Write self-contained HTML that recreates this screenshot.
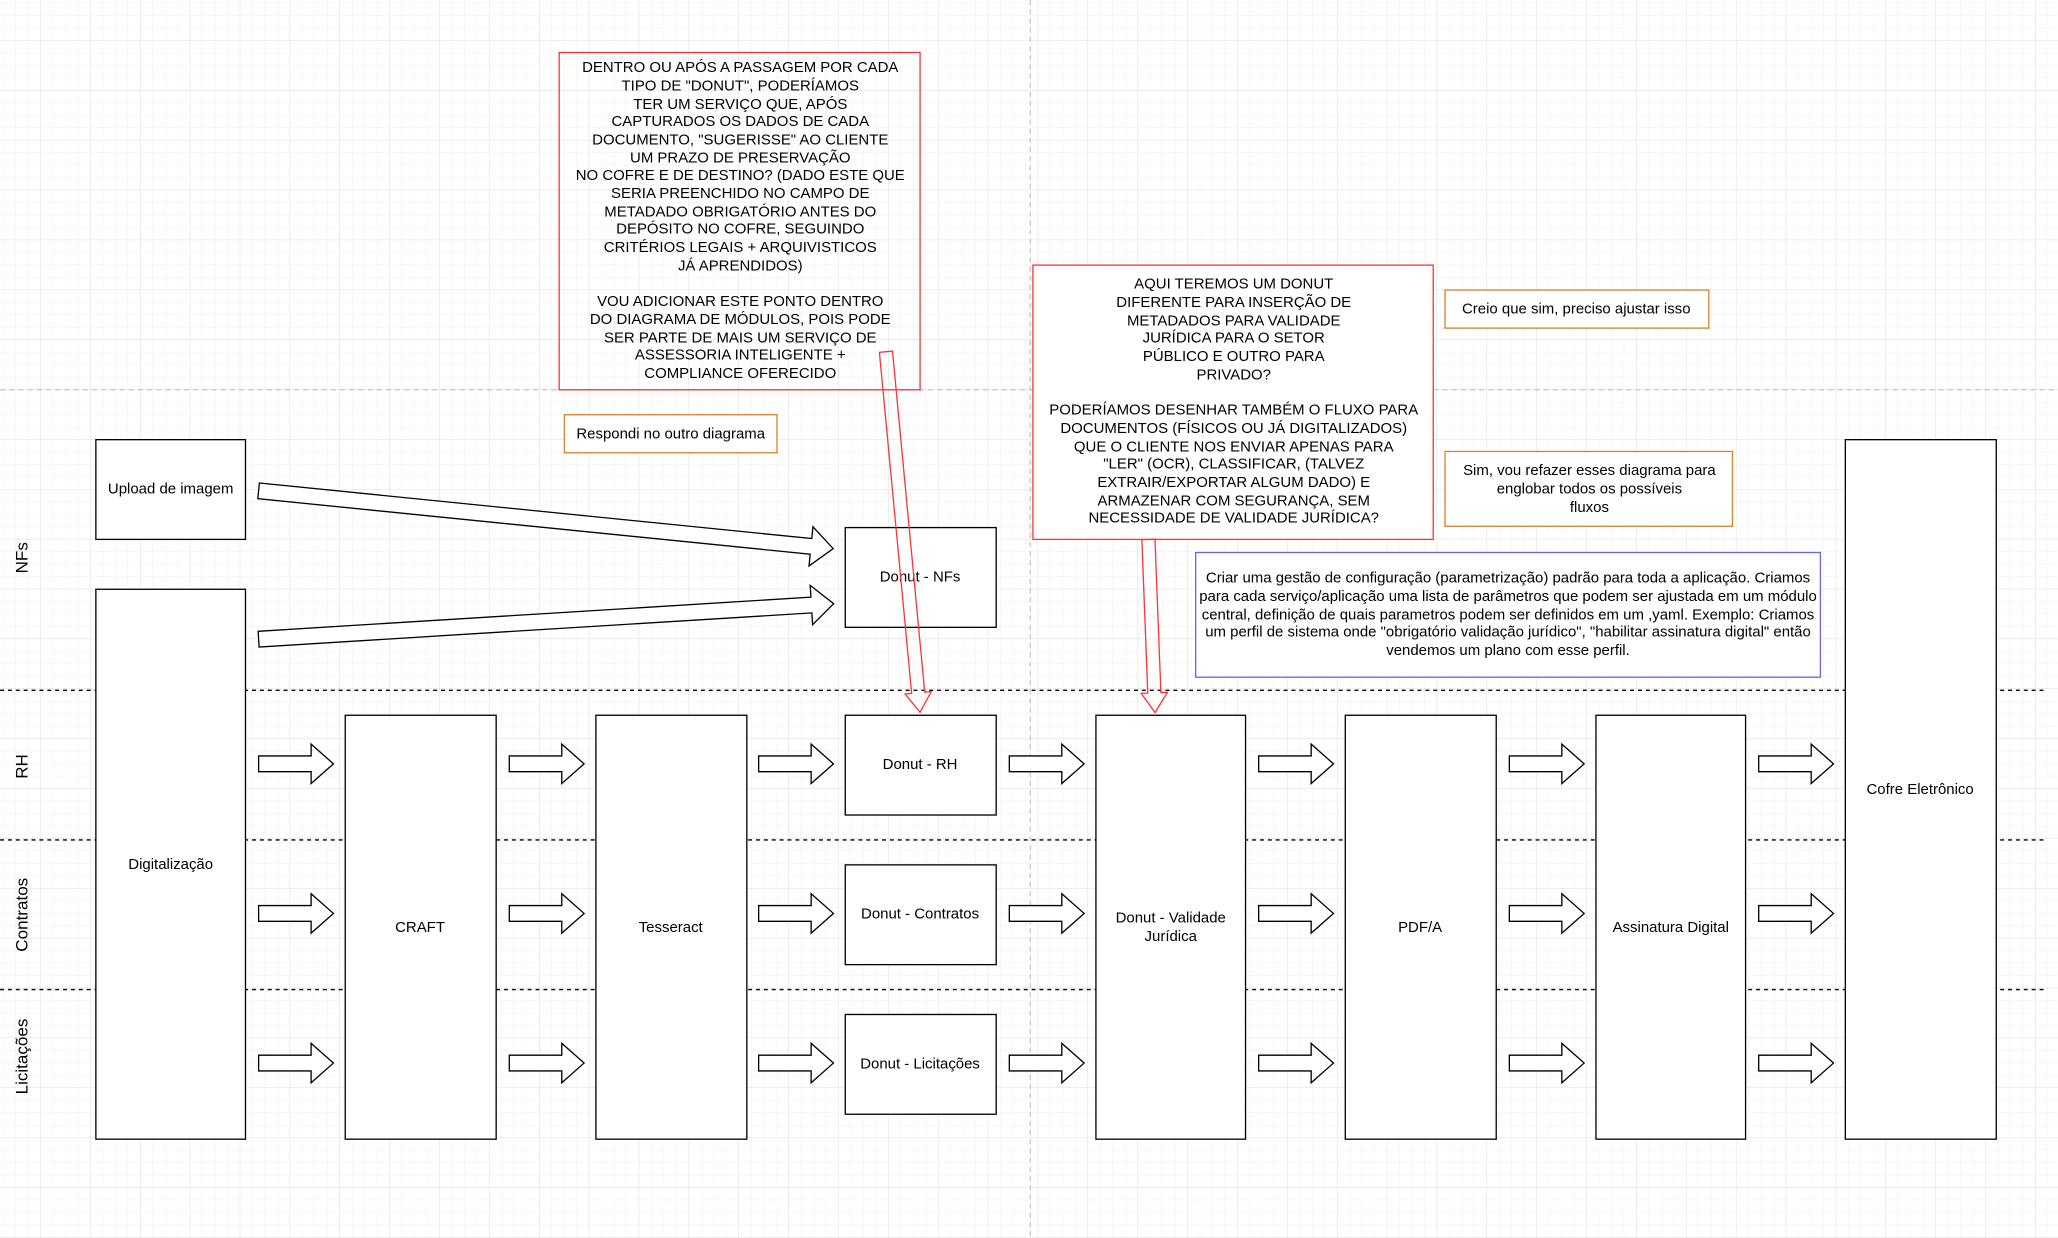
<!DOCTYPE html>
<html><head><meta charset="utf-8"><style>
html,body{margin:0;padding:0;background:#fff;}
svg{display:block;}
text{font-family:"Liberation Sans",sans-serif;font-size:11.4px;fill:#000;}
</style></head><body>
<svg width="2058" height="1238" viewBox="0 0 1568 943.3" xmlns="http://www.w3.org/2000/svg">
<defs>
<pattern id="gm" width="9.5" height="9.5" patternUnits="userSpaceOnUse"><path d="M9.5 0V9.5H0" fill="none" stroke="#efefef" stroke-width="0.7"/></pattern>
<pattern id="gM" width="38" height="38" patternUnits="userSpaceOnUse" x="-7" y="-7"><rect width="38" height="38" fill="url(#gm)"/><path d="M38 0V38H0" fill="none" stroke="#dcdcdc" stroke-width="0.8"/></pattern>
<path id="ar" d="M0,-6H40V-15L57,0L40,15V6H0Z" fill="#fff" stroke="#000" stroke-width="1"/>
</defs>
<rect width="1568" height="943.3" fill="url(#gM)"/>
<line x1="785" y1="0" x2="785" y2="943" stroke="#c8c8c8" stroke-dasharray="4,3"/>
<line x1="0" y1="297" x2="1568" y2="297" stroke="#c8c8c8" stroke-dasharray="4,3"/>
<g stroke="#000" stroke-dasharray="3,3">
<line x1="0" y1="526" x2="1560" y2="526"/><line x1="0" y1="640" x2="1560" y2="640"/><line x1="0" y1="754" x2="1560" y2="754"/>
</g>
<g>
<text transform="translate(21,425) rotate(-90)" text-anchor="middle" style="font-size:13px">NFs</text>
<text transform="translate(21,584) rotate(-90)" text-anchor="middle" style="font-size:13px">RH</text>
<text transform="translate(21,697) rotate(-90)" text-anchor="middle" style="font-size:13px">Contratos</text>
<text transform="translate(21,805) rotate(-90)" text-anchor="middle" style="font-size:13px">Licitações</text>
</g>
<g fill="#fff" stroke="#000" stroke-width="1">
<rect x="73" y="335" width="114" height="76"/>
<rect x="73" y="449" width="114" height="419"/>
<rect x="263" y="545" width="115" height="323"/>
<rect x="454" y="545" width="115" height="323"/>
<rect x="644" y="402" width="115" height="76"/>
<rect x="644" y="545" width="115" height="76"/>
<rect x="644" y="659" width="115" height="76"/>
<rect x="644" y="773" width="115" height="76"/>
<rect x="835" y="545" width="114" height="323"/>
<rect x="1025" y="545" width="115" height="323"/>
<rect x="1216" y="545" width="114" height="323"/>
<rect x="1406" y="335" width="115" height="533"/>
</g>
<g text-anchor="middle">
<text x="130" y="376">Upload de imagem</text>
<text x="130" y="662">Digitalização</text>
<text x="320" y="710">CRAFT</text>
<text x="511" y="710">Tesseract</text>
<text x="701" y="443">Donut - NFs</text>
<text x="701" y="586">Donut - RH</text>
<text x="701" y="700">Donut - Contratos</text>
<text x="701" y="814">Donut - Licitações</text>
<text x="892" y="703">Donut - Validade</text>
<text x="892" y="717">Jurídica</text>
<text x="1082" y="710">PDF/A</text>
<text x="1273" y="710">Assinatura Digital</text>
<text x="1463" y="605">Cofre Eletrônico</text>
</g>
<g>
<use href="#ar" x="197" y="582"/><use href="#ar" x="197" y="696"/><use href="#ar" x="197" y="810"/>
<use href="#ar" x="388" y="582"/><use href="#ar" x="388" y="696"/><use href="#ar" x="388" y="810"/>
<use href="#ar" x="578" y="582"/><use href="#ar" x="578" y="696"/><use href="#ar" x="578" y="810"/>
<use href="#ar" x="769" y="582"/><use href="#ar" x="769" y="696"/><use href="#ar" x="769" y="810"/>
<use href="#ar" x="959" y="582"/><use href="#ar" x="959" y="696"/><use href="#ar" x="959" y="810"/>
<use href="#ar" x="1150" y="582"/><use href="#ar" x="1150" y="696"/><use href="#ar" x="1150" y="810"/>
<use href="#ar" x="1340" y="582"/><use href="#ar" x="1340" y="696"/><use href="#ar" x="1340" y="810"/>
</g>
<g transform="translate(197,374) rotate(5.74)"><path d="M0,-6H423V-15L440,0L423,15V6H0Z" fill="#fff" stroke="#000"/></g>
<g transform="translate(197,487) rotate(-3.53)"><path d="M0,-6H422V-15L439,0L422,15V6H0Z" fill="#fff" stroke="#000"/></g>
<rect x="426" y="40" width="275" height="257" fill="none" stroke="#ff3333"/>
<rect x="787" y="202" width="305" height="209" fill="#fff" stroke="#ff3333"/>
<g text-anchor="middle">
<text x="564" y="55">DENTRO OU APÓS A PASSAGEM POR CADA</text>
<text x="564" y="69">TIPO DE "DONUT", PODERÍAMOS</text>
<text x="564" y="83">TER UM SERVIÇO QUE, APÓS</text>
<text x="564" y="96">CAPTURADOS OS DADOS DE CADA</text>
<text x="564" y="110">DOCUMENTO, "SUGERISSE" AO CLIENTE</text>
<text x="564" y="124">UM PRAZO DE PRESERVAÇÃO</text>
<text x="564" y="137">NO COFRE E DE DESTINO? (DADO ESTE QUE</text>
<text x="564" y="151">SERIA PREENCHIDO NO CAMPO DE</text>
<text x="564" y="165">METADADO OBRIGATÓRIO ANTES DO</text>
<text x="564" y="178">DEPÓSITO NO COFRE, SEGUINDO</text>
<text x="564" y="192">CRITÉRIOS LEGAIS + ARQUIVISTICOS</text>
<text x="564" y="206">JÁ APRENDIDOS)</text>
<text x="564" y="233">VOU ADICIONAR ESTE PONTO DENTRO</text>
<text x="564" y="247">DO DIAGRAMA DE MÓDULOS, POIS PODE</text>
<text x="564" y="261">SER PARTE DE MAIS UM SERVIÇO DE</text>
<text x="564" y="274">ASSESSORIA INTELIGENTE +</text>
<text x="564" y="288">COMPLIANCE OFERECIDO</text>
<text x="940" y="220">AQUI TEREMOS UM DONUT</text>
<text x="940" y="234">DIFERENTE PARA INSERÇÃO DE</text>
<text x="940" y="248">METADADOS PARA VALIDADE</text>
<text x="940" y="261">JURÍDICA PARA O SETOR</text>
<text x="940" y="275">PÚBLICO E OUTRO PARA</text>
<text x="940" y="289">PRIVADO?</text>
<text x="940" y="316">PODERÍAMOS DESENHAR TAMBÉM O FLUXO PARA</text>
<text x="940" y="330">DOCUMENTOS (FÍSICOS OU JÁ DIGITALIZADOS)</text>
<text x="940" y="344">QUE O CLIENTE NOS ENVIAR APENAS PARA</text>
<text x="940" y="357">"LER" (OCR), CLASSIFICAR, (TALVEZ</text>
<text x="940" y="371">EXTRAIR/EXPORTAR ALGUM DADO) E</text>
<text x="940" y="385">ARMAZENAR COM SEGURANÇA, SEM</text>
<text x="940" y="398">NECESSIDADE DE VALIDADE JURÍDICA?</text>
</g>
<g transform="translate(675,268) rotate(84.6)"><path d="M0,-5H261V-10L276,0L261,10V5H0Z" fill="none" stroke="#ff3333"/></g>
<g transform="translate(875,411) rotate(87.8)"><path d="M0,-5H117V-10L132,0L117,10V5H0Z" fill="none" stroke="#ff3333"/></g>
<g fill="#fff" stroke="#d9822b">
<rect x="430" y="316" width="162" height="29"/>
<rect x="1101" y="221" width="201" height="29"/>
<rect x="1101" y="344" width="219" height="57"/>
</g>
<rect x="911" y="421" width="476" height="95" fill="#fff" stroke="#6666ee"/>
<g text-anchor="middle">
<text x="511" y="334">Respondi no outro diagrama</text>
<text x="1201" y="239">Creio que sim, preciso ajustar isso</text>
<text x="1211" y="362">Sim, vou refazer esses diagrama para</text>
<text x="1211" y="376">englobar todos os possíveis</text>
<text x="1211" y="390">fluxos</text>
<text x="1149" y="444">Criar uma gestão de configuração (parametrização) padrão para toda a aplicação. Criamos</text>
<text x="1149" y="458">para cada serviço/aplicação uma lista de parâmetros que podem ser ajustada em um módulo</text>
<text x="1149" y="472">central, definição de quais parametros podem ser definidos em um ,yaml. Exemplo:  Criamos</text>
<text x="1149" y="485">um perfil de sistema onde "obrigatório validação jurídico", "habilitar assinatura digital" então</text>
<text x="1149" y="499">vendemos um plano com esse perfil.</text>
</g>
</svg>
</body></html>
